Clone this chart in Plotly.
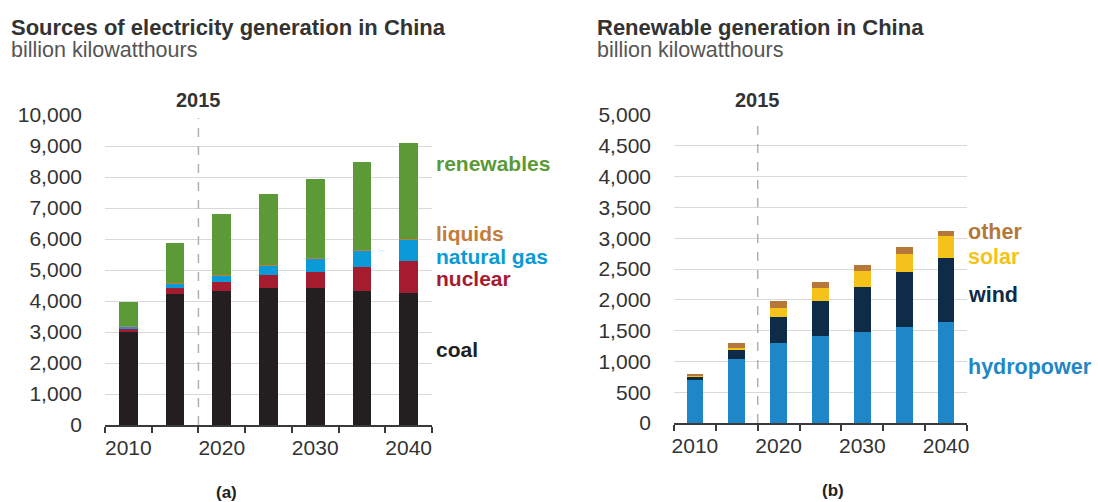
import plotly.graph_objects as go

years = [2010, 2015, 2020, 2025, 2030, 2035, 2040]

# Left panel: sources of electricity generation (billion kWh)
coal = [3010, 4230, 4320, 4410, 4410, 4320, 4250]
nuclear = [75, 190, 300, 430, 535, 790, 1050]
natural_gas = [90, 160, 200, 310, 420, 520, 675]
liquids = [10, 15, 10, 15, 15, 15, 15]
renewables = [790, 1285, 1965, 2280, 2550, 2850, 3115]

# Right panel: renewable generation (billion kWh)
hydropower = [700, 1045, 1300, 1410, 1480, 1565, 1640]
wind = [50, 145, 425, 570, 735, 885, 1035]
solar = [5, 30, 145, 205, 245, 300, 355]
other = [35, 80, 110, 105, 110, 100, 90]

tick_years = [2010, 2020, 2030, 2040]
boundaries = [2007.5, 2012.5, 2017.5, 2022.5, 2027.5, 2032.5, 2037.5, 2042.5]

W, H = 1098, 502
FONT = "Liberation Sans, Arial, sans-serif"

left_series = [
    ("coal", coal, "#231f20", 2420),
    ("nuclear", nuclear, "#a51c30", 4710),
    ("natural gas", natural_gas, "#0a9ad7", 5420),
    ("liquids", liquids, "#c47c3b", 6180),
    ("renewables", renewables, "#5b9a36", 8450),
]
right_series = [
    ("hydropower", hydropower, "#1f87c8", 909),
    ("wind", wind, "#0e2b47", 2078),
    ("solar", solar, "#f5c21b", 2695),
    ("other", other, "#b5783a", 3100),
]

fig = go.Figure()
for name, vals, col, _ in left_series:
    fig.add_trace(go.Bar(x=years, y=vals, name=name, marker=dict(color=col, line=dict(width=0)),
                         width=2, xaxis="x", yaxis="y", showlegend=False))
for name, vals, col, _ in right_series:
    fig.add_trace(go.Bar(x=years, y=vals, name=name, marker=dict(color=col, line=dict(width=0)),
                         width=2, xaxis="x2", yaxis="y2", showlegend=False))

def px_x(p):
    return p / W

def px_y(p):
    return 1 - p / H

xcommon = dict(
    range=[2007.5, 2042.5], tickmode="array", tickvals=tick_years,
    ticktext=[str(t) for t in tick_years], ticks="", showgrid=False,
    showline=True, linecolor="#3a3a3a", linewidth=1.8,
    tickfont=dict(family=FONT, size=21, color="#333333"),
    minor=dict(tickmode="array", tickvals=boundaries, ticks="outside", ticklen=6,
               tickcolor="#3a3a3a", tickwidth=1.5, showgrid=False),
    zeroline=False, fixedrange=True, ticklabelstandoff=3, automargin=False,
)
ycommon = dict(
    showline=False, ticks="", showgrid=True, gridcolor="#d9d9d9", gridwidth=1,
    tickfont=dict(family=FONT, size=21, color="#333333"), tickformat=",d",
    zeroline=False, ticklabelstandoff=22, fixedrange=True, automargin=False,
)

fig.update_layout(
    width=W, height=H, autosize=False,
    margin=dict(l=0, r=0, t=0, b=0, pad=0, autoexpand=False),
    paper_bgcolor="white", plot_bgcolor="white", barmode="stack", bargap=0,
    font=dict(family=FONT, color="#333333"),
    xaxis=dict(domain=[px_x(105), px_x(432)], anchor="y", **xcommon),
    yaxis=dict(domain=[px_y(425), px_y(115)], anchor="x", range=[0, 10000],
               tickvals=list(range(0, 10001, 1000)), **ycommon),
    xaxis2=dict(domain=[px_x(674), px_x(967)], anchor="y2", **xcommon),
    yaxis2=dict(domain=[px_y(423), px_y(115)], anchor="x2", range=[0, 5000],
                tickvals=list(range(0, 5001, 500)), **ycommon),
)

# 2015 dashed lines
for xr, yr in (("x", "y domain"), ("x2", "y2 domain")):
    fig.add_shape(type="line", xref=xr, yref=yr, x0=2017.5, x1=2017.5, y0=0, y1=0.99,
                  line=dict(color="#b0b0b0", width=1.5, dash="dash"), layer="above")
    fig.add_annotation(xref=xr, yref=yr, x=2017.5, y=1, yanchor="bottom", yshift=2,
                       text="<b>2015</b>", showarrow=False,
                       font=dict(family=FONT, size=20, color="#333333"))

# Series labels
for name, _, col, ypos in left_series:
    fig.add_annotation(xref="x domain", yref="y", x=1, y=ypos, xanchor="left", xshift=2,
                       text=f"<b>{name}</b>", showarrow=False,
                       font=dict(family=FONT, size=21, color=col))
for name, _, col, ypos in right_series:
    fig.add_annotation(xref="x2 domain", yref="y2", x=1, y=ypos, xanchor="left", xshift=-1,
                       text=f"<b>{name}</b>", showarrow=False,
                       font=dict(family=FONT, size=21.5, color=col))

# Titles
titles = [
    (9, "Sources of electricity generation in China"),
    (595, "Renewable generation in China"),
]
for xp, t in titles:
    fig.add_annotation(xref="paper", yref="paper", x=px_x(xp), y=px_y(28), xanchor="left",
                       yanchor="middle", text=f"<b>{t}</b>", showarrow=False,
                       font=dict(family=FONT, size=22, color="#333333"))
    fig.add_annotation(xref="paper", yref="paper", x=px_x(xp), y=px_y(50), xanchor="left",
                       yanchor="middle", text="billion kilowatthours", showarrow=False,
                       font=dict(family=FONT, size=21.5, color="#555555"))

for xp, yp, t in ((226, 492, "(a)"), (833, 490, "(b)")):
    fig.add_annotation(xref="paper", yref="paper", x=px_x(xp), y=px_y(yp), xanchor="center",
                       yanchor="middle", text=f"<b>{t}</b>", showarrow=False,
                       font=dict(family=FONT, size=17, color="#222222"))

fig.write_html("out.html", post_script="document.body.style.margin='0';")
